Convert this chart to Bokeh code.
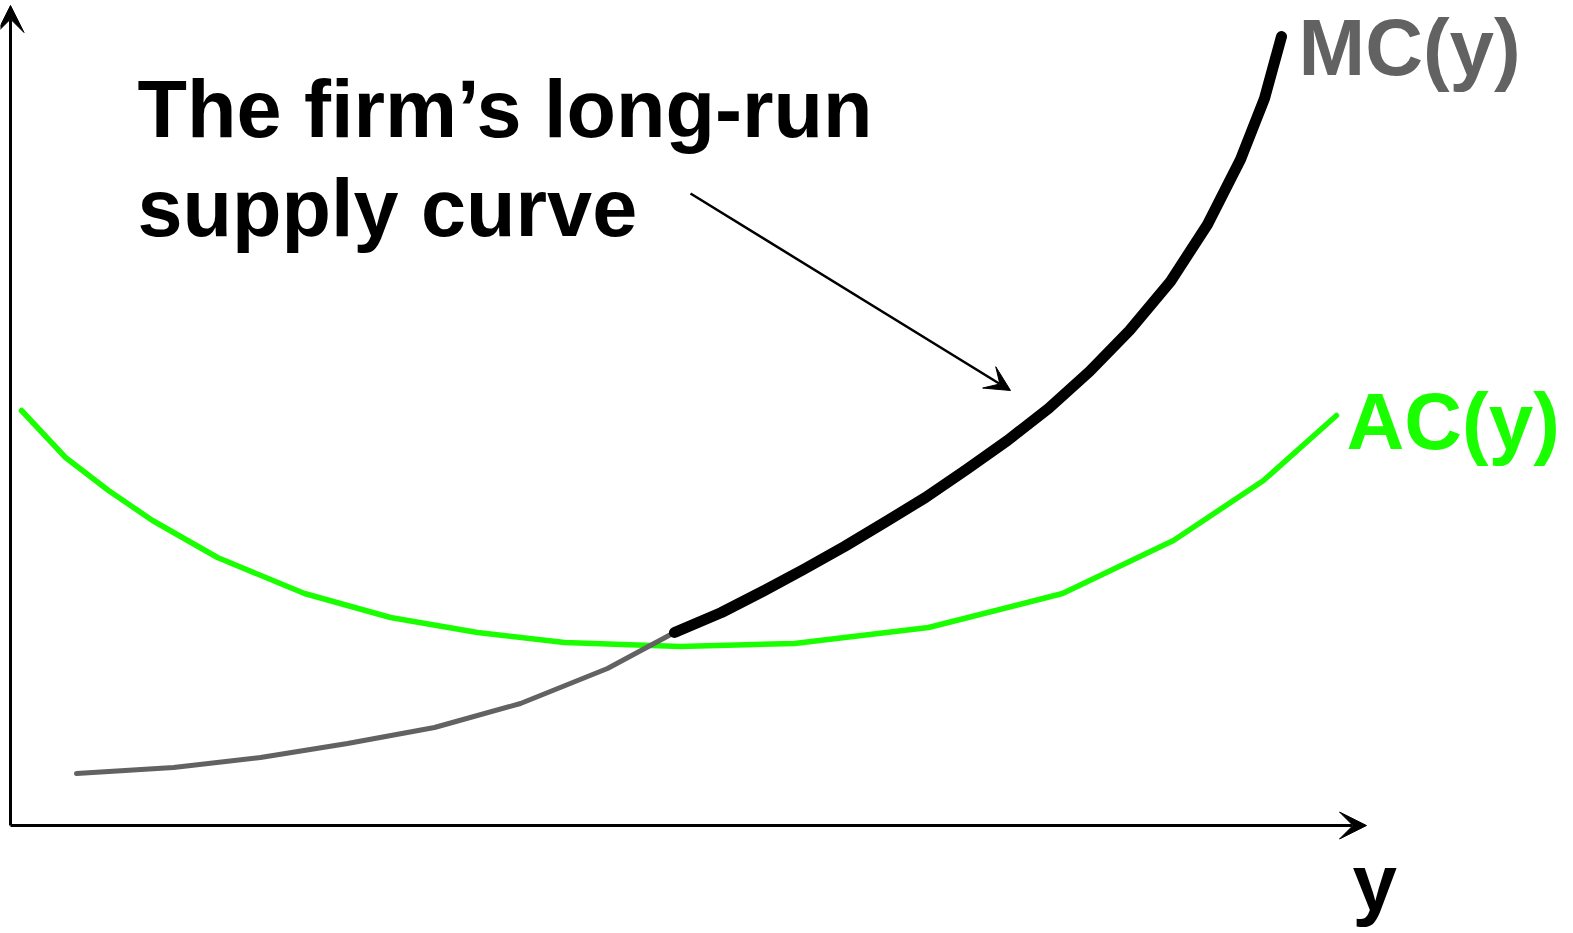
from bokeh.plotting import figure
from bokeh.models import Range1d, Arrow, VeeHead, ColumnDataSource
from bokeh.core.properties import value
from bokeh.embed import file_html
from bokeh.resources import INLINE

# ---- data ----
mc_low_x = [0.66, 1.63, 2.50, 3.37, 4.24, 5.10, 5.97, 6.64]
mc_low_y = [0.52, 0.58, 0.68, 0.82, 0.98, 1.22, 1.57, 1.93]

mc_high_x = [6.64, 7.11, 7.52, 7.93, 8.34, 8.74, 9.15, 9.56, 9.97, 10.38, 10.79, 11.19, 11.60, 11.97, 12.30, 12.54, 12.71]
mc_high_y = [1.93, 2.13, 2.34, 2.56, 2.79, 3.03, 3.28, 3.56, 3.85, 4.17, 4.54, 4.95, 5.44, 6.01, 6.66, 7.27, 7.89]

ac_x = [0.11, 0.55, 0.98, 1.42, 2.07, 2.94, 3.80, 4.67, 5.54, 6.70, 7.84, 9.18, 10.52, 11.63, 12.53, 13.26]
ac_y = [4.15, 3.68, 3.35, 3.05, 2.68, 2.32, 2.08, 1.93, 1.83, 1.79, 1.82, 1.98, 2.32, 2.85, 3.45, 4.10]

title_lines = ["The firm\u2019s long-run", "supply curve"]
mc_label = "MC(y)"
ac_label = "AC(y)"
x_label = "y"

GREEN = "#1aff00"
GRAY = "#626262"
FONT = value("Liberation Sans")
TXT_SHIFT = 0.30  # compensates the renderer's baseline placement

W, H = 1573, 933
x0, y1 = -0.10, 8.25
p = figure(width=W, height=H, output_backend="svg", toolbar_location=None,
           x_range=Range1d(x0, x0 + W / 100), y_range=Range1d(y1 - H / 100, y1),
           min_border=0)
p.axis.visible = False
p.grid.visible = False
p.outline_line_color = None
p.background_fill_color = "white"

# axes with arrow heads
p.add_layout(Arrow(x_start=0, y_start=0, x_end=0, y_end=8.20, line_width=3, line_color="black",
                   end=VeeHead(size=27, fill_color="black", line_color="black", line_width=1)))
p.add_layout(Arrow(x_start=0, y_start=0, x_end=13.56, y_end=0, line_width=3, line_color="black",
                   end=VeeHead(size=27, fill_color="black", line_color="black", line_width=1)))

# curves
p.line(ac_x, ac_y, line_color=GREEN, line_width=5.5, line_cap="round", line_join="round")
p.line(mc_low_x, mc_low_y, line_color=GRAY, line_width=5, line_cap="round", line_join="round")
p.line(mc_high_x, mc_high_y, line_color="black", line_width=11, line_cap="round", line_join="round")

# annotation arrow
p.add_layout(Arrow(x_start=6.80, y_start=6.32, x_end=10.0, y_end=4.35, line_width=2.5, line_color="black",
                   end=VeeHead(size=25, fill_color="black", line_color="black", line_width=1)))

# texts
src = ColumnDataSource(dict(x=[1.27, 1.27], y=[6.87 + TXT_SHIFT, 5.88 + TXT_SHIFT], t=title_lines))
p.text(x="x", y="y", text="t", source=src, text_font=FONT, text_font_style="bold",
       text_font_size="81px", text_color="black", text_baseline="alphabetic", text_align="left")
p.text(x=[12.88], y=[7.48 + TXT_SHIFT], text=[mc_label], text_font=FONT, text_font_style="bold",
       text_font_size="80px", text_color=GRAY, text_baseline="alphabetic", text_align="left")
p.text(x=[13.36], y=[3.74 + TXT_SHIFT], text=[ac_label], text_font=FONT, text_font_style="bold",
       text_font_size="80px", text_color=GREEN, text_baseline="alphabetic", text_align="left")
p.text(x=[13.42], y=[-0.87 + TXT_SHIFT], text=[x_label], text_font=FONT, text_font_style="bold",
       text_font_size="80px", text_color="black", text_baseline="alphabetic", text_align="left")

open("out.html", "w").write(file_html(p, INLINE))
